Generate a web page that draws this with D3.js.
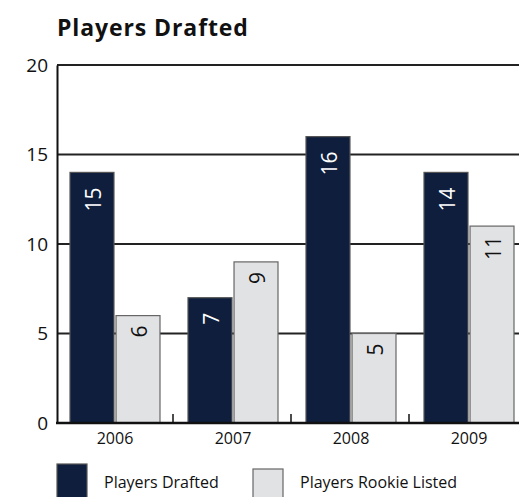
<!DOCTYPE html>
<html><head><meta charset="utf-8">
<script src="https://cdn.jsdelivr.net/npm/d3@7"></script>
<style>body{margin:0;background:#fff;}svg{display:block;font-family:"Open Sans","Noto Sans",sans-serif;}</style>
</head><body>
<svg id="c" width="519" height="497"></svg>
<script>
const categories = ["2006","2007","2008","2009"];
// bar heights as drawn in the picture
const drafted = [14,7,16,14];
const rookie = [6,9,5,11];
// value labels as printed in the picture
const draftedLabels = ["15","7","16","14"];
const rookieLabels = ["6","9","5","11"];
const seriesNames = ["Players Drafted","Players Rookie Listed"];
const yTicks = [0,5,10,15,20];

(function(){
const svg = d3.select("#c");
const mLeft = 57, mTop = 65, mBottom = 423, bandW = 118;
const x = d3.scaleBand().domain(categories).range([mLeft-1, mLeft-1+bandW*categories.length]).paddingInner(0).paddingOuter(0);
const y = d3.scaleLinear().domain([0,20]).range([mBottom, mTop]);
const colors = ["#0e1e3c","#e1e2e4"];
const inner = d3.scaleBand().domain([0,1]).range([14, bandW-14]).paddingInner(4/90);

svg.append("text").attr("x",57).attr("y",36).attr("font-size",23).attr("font-weight","bold")
  .attr("letter-spacing",0.9).attr("fill","#111").text("Players Drafted");

svg.append("g").selectAll("line").data(yTicks.filter(d=>d>0)).join("line")
  .attr("x1",mLeft).attr("x2",519).attr("y1",d=>y(d)).attr("y2",d=>y(d))
  .attr("stroke","#222").attr("stroke-width",2);

const ya = svg.append("g").attr("transform",`translate(${mLeft},0)`).call(d3.axisLeft(y).tickValues(yTicks).tickSize(0).tickPadding(9));
ya.select(".domain").attr("stroke","#111").attr("stroke-width",2);
ya.selectAll("text").attr("font-size",19).attr("fill","#111").attr("font-family","Open Sans, sans-serif");

const data = categories.map((c,i)=>({c, v:[drafted[i], rookie[i]], l:[draftedLabels[i], rookieLabels[i]]}));
const g = svg.append("g");
data.forEach(d=>{
  d.v.forEach((v,j)=>{
    const bx = x(d.c)+inner(j), bw = inner.bandwidth();
    g.append("rect").attr("x",bx).attr("y",y(v)).attr("width",bw).attr("height",y(0)-y(v))
      .attr("fill",colors[j]).attr("stroke", j===0?"#555":"#666").attr("stroke-width",1.2);
    g.append("text").attr("transform",`translate(${bx+bw/2+1},${y(v)+(j===0?15:10)}) rotate(-90)`)
      .attr("text-anchor","end").attr("dominant-baseline","central")
      .attr("font-size",21).attr("fill", j===0?"#fff":"#111").text(d.l[j]);
  });
});

const xa = svg.append("g").attr("transform",`translate(0,${mBottom})`).call(d3.axisBottom(x).tickSize(0).tickPadding(10));
xa.select(".domain").remove();
xa.selectAll("text").attr("font-size",16).attr("fill","#111").attr("font-family","Open Sans, sans-serif");
svg.append("line").attr("x1",mLeft-1).attr("x2",519).attr("y1",mBottom).attr("y2",mBottom).attr("stroke","#111").attr("stroke-width",2.5);
svg.append("g").selectAll("line").data(categories.slice(1)).join("line")
  .attr("x1",d=>x(d)-1).attr("x2",d=>x(d)-1).attr("y1",mBottom).attr("y2",mBottom-9)
  .attr("stroke","#111").attr("stroke-width",1.5);

const lx = [57,253], ly = [464,469];
seriesNames.forEach((n,j)=>{
  svg.append("rect").attr("x",lx[j]).attr("y",ly[j]).attr("width",30).attr("height",40)
    .attr("fill",colors[j]).attr("stroke",j===0?"#555":"#666").attr("stroke-width",1.2);
  svg.append("text").attr("x",lx[j]+47).attr("y",488).attr("font-size",16).attr("fill","#111").text(n);
});
})();
</script>
</body></html>
